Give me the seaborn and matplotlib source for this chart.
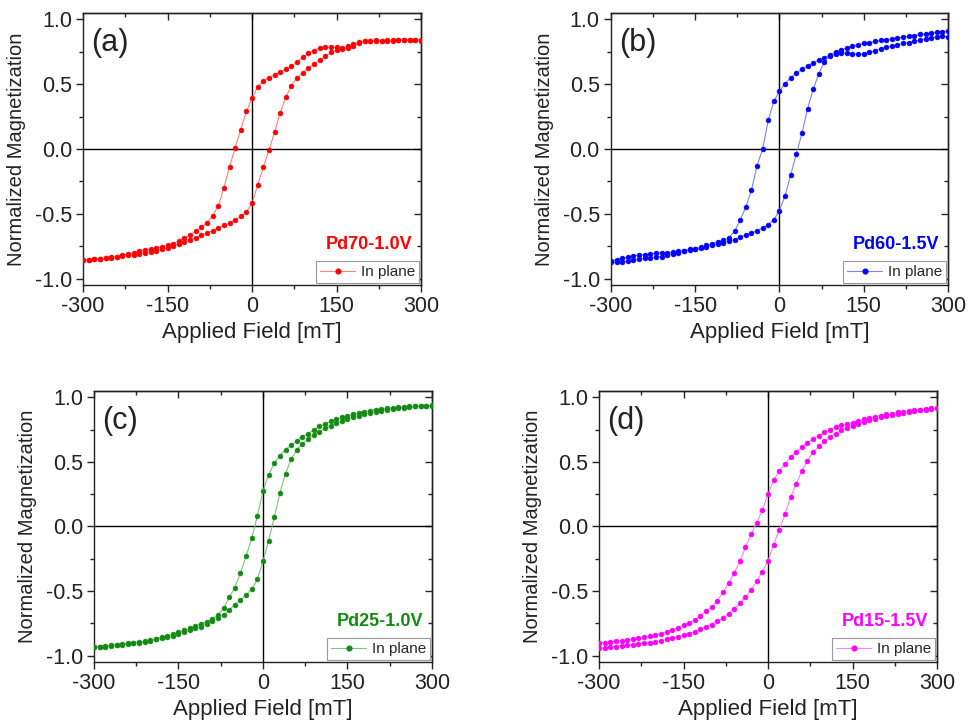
import numpy as np
import pandas as pd
import matplotlib
matplotlib.use("Agg")
import matplotlib.pyplot as plt
import seaborn as sns
from matplotlib.lines import Line2D
from matplotlib.ticker import MultipleLocator

# applied field grid [mT], shared by every branch
FIELD = [-300, -290, -280, -270, -260, -250, -240, -230, -220, -210,
         -200, -190, -180, -170, -160, -150, -140, -130, -120, -110,
         -100, -90, -80, -70, -60, -50, -40, -30, -20, -10,
         0, 10, 20, 30, 40, 50, 60, 70, 80, 90,
         100, 110, 120, 130, 140, 150, 160, 170, 180, 190,
         200, 210, 220, 230, 240, 250, 260, 270, 280, 290, 300]

# (a) Pd70-1.0V
PD70_DOWN = [-0.855, -0.855, -0.85, -0.85, -0.845, -0.835, -0.83, -0.82, -0.81, -0.80,
             -0.785, -0.78, -0.775, -0.765, -0.755, -0.745, -0.73, -0.71, -0.69, -0.665,
             -0.635, -0.605, -0.57, -0.515, -0.44, -0.30, -0.14, 0.01, 0.15, 0.29,
             0.39, 0.48, 0.525, 0.55, 0.57, 0.595, 0.615, 0.64, 0.67, 0.71,
             0.74, 0.76, 0.78, 0.785, 0.785, 0.785, 0.775, 0.78, 0.795, 0.815,
             0.83, 0.835, 0.84, 0.835, 0.835, 0.84, 0.845, 0.84, 0.84, 0.845, 0.84]
PD70_UP = [-0.855, -0.855, -0.85, -0.85, -0.845, -0.84, -0.835, -0.825, -0.82, -0.815,
           -0.81, -0.80, -0.795, -0.785, -0.775, -0.765, -0.75, -0.735, -0.72, -0.70,
           -0.685, -0.665, -0.65, -0.63, -0.61, -0.59, -0.57, -0.55, -0.52, -0.485,
           -0.42, -0.28, -0.14, -0.01, 0.13, 0.28, 0.40, 0.49, 0.55, 0.59,
           0.625, 0.655, 0.685, 0.715, 0.745, 0.765, 0.78, 0.795, 0.81, 0.825,
           0.83, 0.835, 0.835, 0.835, 0.84, 0.835, 0.84, 0.84, 0.845, 0.84, 0.835]

# (b) Pd60-1.5V
PD60_DOWN = [-0.865, -0.855, -0.845, -0.835, -0.825, -0.82, -0.815, -0.81, -0.805, -0.80,
             -0.80, -0.795, -0.79, -0.785, -0.775, -0.77, -0.76, -0.745, -0.73, -0.72,
             -0.705, -0.685, -0.635, -0.55, -0.45, -0.32, -0.13, 0.0, 0.22, 0.37,
             0.445, 0.505, 0.55, 0.585, 0.615, 0.64, 0.665, 0.685, 0.705, 0.725,
             0.75, 0.765, 0.78, 0.795, 0.805, 0.815, 0.82, 0.83, 0.84, 0.845,
             0.85, 0.855, 0.865, 0.87, 0.875, 0.885, 0.89, 0.895, 0.90, 0.905, 0.91]
PD60_UP = [-0.875, -0.875, -0.87, -0.865, -0.86, -0.85, -0.845, -0.84, -0.835, -0.83,
           -0.82, -0.81, -0.80, -0.79, -0.78, -0.775, -0.765, -0.755, -0.745, -0.735,
           -0.725, -0.71, -0.70, -0.68, -0.665, -0.65, -0.63, -0.61, -0.585, -0.545,
           -0.475, -0.36, -0.20, -0.04, 0.12, 0.31, 0.46, 0.58, 0.675, 0.72,
           0.735, 0.74, 0.74, 0.735, 0.73, 0.735, 0.745, 0.76, 0.775, 0.785,
           0.795, 0.805, 0.815, 0.82, 0.83, 0.84, 0.85, 0.86, 0.865, 0.87, 0.865]

# (c) Pd25-1.0V
PD25_DOWN = [-0.93, -0.93, -0.925, -0.92, -0.915, -0.91, -0.905, -0.90, -0.895, -0.89,
             -0.88, -0.87, -0.86, -0.85, -0.835, -0.82, -0.805, -0.79, -0.77, -0.755,
             -0.74, -0.715, -0.685, -0.635, -0.55, -0.475, -0.36, -0.23, -0.09, 0.08,
             0.275, 0.40, 0.49, 0.55, 0.595, 0.63, 0.665, 0.695, 0.72, 0.75,
             0.775, 0.795, 0.815, 0.83, 0.845, 0.86, 0.868, 0.88, 0.89, 0.895,
             0.905, 0.91, 0.915, 0.92, 0.925, 0.925, 0.93, 0.93, 0.935, 0.935, 0.935]
PD25_UP = [-0.935, -0.935, -0.93, -0.925, -0.92, -0.915, -0.91, -0.905, -0.90, -0.895,
           -0.885, -0.875, -0.865, -0.855, -0.845, -0.83, -0.82, -0.805, -0.79, -0.775,
           -0.758, -0.735, -0.71, -0.685, -0.645, -0.605, -0.57, -0.53, -0.485, -0.41,
           -0.27, -0.11, 0.07, 0.26, 0.41, 0.52, 0.595, 0.64, 0.675, 0.71,
           0.735, 0.76, 0.78, 0.80, 0.815, 0.835, 0.85, 0.86, 0.87, 0.88,
           0.89, 0.895, 0.905, 0.91, 0.915, 0.92, 0.925, 0.93, 0.93, 0.935, 0.94]

# (d) Pd15-1.5V
PD15_DOWN = [-0.90, -0.90, -0.895, -0.89, -0.885, -0.88, -0.875, -0.865, -0.86, -0.85,
             -0.84, -0.83, -0.815, -0.80, -0.785, -0.765, -0.745, -0.725, -0.69, -0.655,
             -0.625, -0.575, -0.51, -0.44, -0.36, -0.27, -0.16, -0.06, 0.03, 0.13,
             0.25, 0.36, 0.43, 0.485, 0.54, 0.58, 0.615, 0.65, 0.68, 0.705,
             0.73, 0.75, 0.77, 0.785, 0.795, 0.805, 0.815, 0.83, 0.84, 0.85,
             0.86, 0.87, 0.875, 0.885, 0.89, 0.895, 0.90, 0.905, 0.91, 0.915, 0.92]
PD15_UP = [-0.945, -0.94, -0.935, -0.93, -0.925, -0.92, -0.915, -0.91, -0.905, -0.90,
           -0.895, -0.885, -0.875, -0.865, -0.855, -0.84, -0.83, -0.815, -0.795, -0.78,
           -0.76, -0.735, -0.71, -0.675, -0.64, -0.595, -0.545, -0.49, -0.425, -0.35,
           -0.265, -0.14, -0.025, 0.095, 0.225, 0.33, 0.43, 0.51, 0.575, 0.62,
           0.66, 0.69, 0.72, 0.745, 0.765, 0.78, 0.795, 0.81, 0.825, 0.835,
           0.845, 0.855, 0.865, 0.875, 0.88, 0.89, 0.895, 0.90, 0.905, 0.91, 0.92]

TAGS = ["(a)", "(b)", "(c)", "(d)"]
SAMPLES = ["Pd70-1.0V", "Pd60-1.5V", "Pd25-1.0V", "Pd15-1.5V"]
COLORS = ["#ff0000", "#0000ff", "#138a13", "#ff00ff"]
LINE_COLORS = ["#ff8080", "#8080ff", "#80c080", "#ff80ff"]
BRANCHES = [(PD70_DOWN, PD70_UP), (PD60_DOWN, PD60_UP),
            (PD25_DOWN, PD25_UP), (PD15_DOWN, PD15_UP)]

# axes rectangles in figure fraction
POSITIONS = [[0.0857, 0.6069, 0.3488, 0.3752],
             [0.6305, 0.6069, 0.3478, 0.3752],
             [0.0970, 0.0869, 0.3488, 0.3738],
             [0.6182, 0.0869, 0.3488, 0.3738]]

sns.set_theme(style="ticks")
plt.rcParams["font.family"] = ["Liberation Sans", "DejaVu Sans"]
plt.rcParams["axes.linewidth"] = 1.0

fig = plt.figure(figsize=(9.69, 7.25), dpi=100)
fig.patch.set_facecolor("white")

for i in range(4):
    ax = fig.add_axes(POSITIONS[i])
    down, up = BRANCHES[i]
    df = pd.DataFrame({"field": FIELD + FIELD,
                       "m": down + up,
                       "branch": ["down"] * len(FIELD) + ["up"] * len(FIELD)})
    for name, part in df.groupby("branch"):
        sns.lineplot(data=part, x="field", y="m", sort=False, estimator=None,
                     color=LINE_COLORS[i], lw=0.8, marker="o", markersize=3.4,
                     markerfacecolor=COLORS[i], markeredgecolor=COLORS[i],
                     markeredgewidth=0.5, ax=ax, zorder=3)

    ax.axhline(0, color="black", lw=1.0, zorder=2)
    ax.axvline(0, color="black", lw=1.0, zorder=2)

    ax.set_xlim(-300, 300)
    ax.set_ylim(-1.05, 1.05)
    ax.set_xticks([-300, -150, 0, 150, 300])
    ax.set_xticklabels(["-300", "-150", "0", "150", "300"])
    ax.set_yticks([-1.0, -0.5, 0.0, 0.5, 1.0])
    ax.set_yticklabels(["-1.0", "-0.5", "0.0", "0.5", "1.0"])
    ax.xaxis.set_minor_locator(MultipleLocator(75))
    ax.yaxis.set_minor_locator(MultipleLocator(0.25))

    ax.tick_params(which="both", direction="out", top=False, right=False,
                   colors="#222222", labelsize=15.5, pad=3)
    ax.tick_params(which="major", length=5, width=1.0)
    ax.tick_params(which="minor", length=3, width=1.0)
    sec_x = ax.secondary_xaxis("top")
    sec_x.set_xticks([-300, -150, 0, 150, 300])
    sec_x.xaxis.set_minor_locator(MultipleLocator(75))
    sec_x.tick_params(which="both", direction="in", labeltop=False, width=1.0)
    sec_x.tick_params(which="major", length=5)
    sec_x.tick_params(which="minor", length=3)
    sec_y = ax.secondary_yaxis("right")
    sec_y.set_yticks([-1.0, -0.5, 0.0, 0.5, 1.0])
    sec_y.yaxis.set_minor_locator(MultipleLocator(0.25))
    sec_y.tick_params(which="both", direction="in", labelright=False, width=1.0)
    sec_y.tick_params(which="major", length=5)
    sec_y.tick_params(which="minor", length=3)

    for sp in ax.spines.values():
        sp.set_color("#222222")
        sp.set_linewidth(1.0)

    ax.set_xlabel("Applied Field [mT]", fontsize=16, color="#222222")
    ax.set_ylabel("Normalized Magnetization", fontsize=14.5, color="#222222")
    ax.xaxis.set_label_coords(0.5, -0.135)
    ax.yaxis.set_label_coords(-0.168, 0.5)

    ax.text(0.025, 0.89, TAGS[i], transform=ax.transAxes, fontsize=22,
            ha="left", va="center", color="#222222")
    ax.text(0.975, 0.148, SAMPLES[i], transform=ax.transAxes, fontsize=13,
            fontweight="bold", ha="right", va="center", color=COLORS[i])

    handle = Line2D([], [], color=LINE_COLORS[i], lw=0.8, marker="o",
                    markersize=3.4, markerfacecolor=COLORS[i],
                    markeredgecolor=COLORS[i])
    leg = ax.legend([handle], ["In plane"], loc="lower right", fontsize=11,
                    frameon=True, fancybox=False, framealpha=1,
                    borderaxespad=0.15, handlelength=2.3, handletextpad=0.35,
                    borderpad=0.25, numpoints=1)
    leg.get_frame().set_edgecolor("#999999")
    leg.get_frame().set_linewidth(0.8)

fig.savefig("out.png", dpi=100, facecolor="white")
